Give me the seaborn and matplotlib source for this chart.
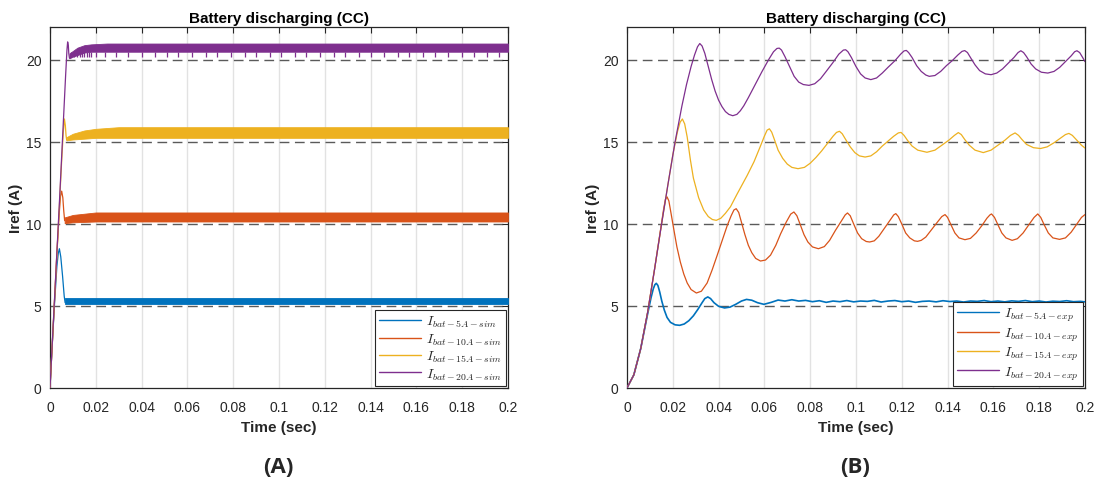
import matplotlib
matplotlib.use("Agg")
import matplotlib.pyplot as plt
import seaborn as sns

# ---------------- data ----------------
# colours (MATLAB default order)
col_5 = "#0072BD"
col_10 = "#D95319"
col_15 = "#EDB120"
col_20 = "#7E2F8E"

# (A) simulation: start-up transient, then a dense ripple band
sim5_t = [0, 0.001, 0.002, 0.003, 0.0036, 0.0041, 0.0047, 0.0055, 0.0062, 0.0066]
sim5_i = [0, 2.7, 5.2, 7.4, 8.2, 8.49, 8.0, 6.8, 5.6, 5.2]
sim10_t = [0, 0.002, 0.003, 0.004, 0.0046, 0.0051, 0.0056, 0.006, 0.0064]
sim10_i = [0, 5.4, 8.2, 10.6, 11.7, 12.0, 11.6, 10.8, 10.2]
sim15_t = [0, 0.003, 0.005, 0.0058, 0.0063, 0.0067, 0.007, 0.0073]
sim15_i = [0, 8.1, 13.6, 15.6, 16.4, 16.0, 15.4, 15.1]
sim20_t = [0, 0.004, 0.0068, 0.0074, 0.0077, 0.008, 0.0082, 0.0085]
sim20_i = [0, 11.0, 19.0, 20.6, 21.1, 20.9, 20.4, 20.1]

# ripple bands (lower / upper envelope)
band5_t = [0.0066, 0.2]
band5_lo = [5.1, 5.1]
band5_hi = [5.5, 5.5]
band10_t = [0.0064, 0.01, 0.02, 0.2]
band10_lo = [10.05, 10.1, 10.15, 10.15]
band10_hi = [10.4, 10.55, 10.7, 10.7]
band15_t = [0.0073, 0.01, 0.015, 0.02, 0.03, 0.2]
band15_lo = [15.1, 15.15, 15.2, 15.25, 15.25, 15.25]
band15_hi = [15.3, 15.5, 15.7, 15.8, 15.9, 15.9]
band20_t = [0.0085, 0.010, 0.012, 0.015, 0.018, 0.025, 0.2]
band20_lo = [20.1, 20.2, 20.3, 20.45, 20.5, 20.5, 20.5]
band20_hi = [20.4, 20.55, 20.75, 20.9, 20.95, 21.0, 21.0]
# downward spikes below the 20 A band
spike20_t = [0.009, 0.0105, 0.012, 0.013, 0.014, 0.015, 0.016, 0.017, 0.018, 0.020,
             0.024, 0.029, 0.034, 0.040, 0.046, 0.051, 0.056, 0.062, 0.068, 0.073,
             0.079, 0.085, 0.090, 0.096, 0.101, 0.107, 0.112, 0.118, 0.124, 0.129,
             0.135, 0.140, 0.146, 0.152, 0.157, 0.163, 0.168, 0.174, 0.180, 0.185,
             0.191, 0.196]
spike20_lo = 20.15

# (B) experiment
exp5_t = [0, 0.003, 0.006, 0.009, 0.0105, 0.0115, 0.0122, 0.0128, 0.0135, 0.0143,
          0.0152, 0.0163, 0.0175, 0.019, 0.021, 0.023, 0.025, 0.027, 0.029, 0.031,
          0.0328, 0.034, 0.0353, 0.0365, 0.038, 0.040, 0.0426, 0.045, 0.0475, 0.050,
          0.0522, 0.0545, 0.057, 0.0598, 0.063, 0.066, 0.069, 0.072,
          0.075, 0.078, 0.081, 0.084, 0.087, 0.090, 0.093, 0.096, 0.099, 0.102,
          0.105, 0.108, 0.111, 0.114, 0.117, 0.120, 0.123, 0.126, 0.129, 0.132,
          0.135, 0.138, 0.141, 0.144, 0.147, 0.150, 0.153, 0.156, 0.159, 0.162,
          0.165, 0.168, 0.171, 0.174, 0.177, 0.180, 0.183, 0.186, 0.189, 0.192,
          0.195, 0.198, 0.2]
exp5_i = [0, 0.8, 2.4, 4.5, 5.5, 6.05, 6.3, 6.38, 6.25, 5.85,
          5.3, 4.75, 4.3, 4.0, 3.85, 3.82, 3.9, 4.1, 4.4, 4.8,
          5.2, 5.45, 5.55, 5.45, 5.2, 4.98, 4.88, 4.93, 5.1, 5.3,
          5.4, 5.35, 5.2, 5.1, 5.22, 5.36, 5.3, 5.38,
          5.3, 5.34, 5.26, 5.32, 5.22, 5.3, 5.26, 5.33, 5.25, 5.3,
          5.28, 5.34, 5.24, 5.3, 5.33, 5.26, 5.3, 5.22, 5.28, 5.3,
          5.25, 5.32, 5.27, 5.3, 5.24, 5.3, 5.28, 5.33, 5.26, 5.3,
          5.25, 5.31, 5.28, 5.33, 5.26, 5.3, 5.24, 5.29, 5.27, 5.32,
          5.26, 5.28, 5.25]
exp10_t = [0, 0.003, 0.006, 0.009, 0.012, 0.0145, 0.016, 0.0168, 0.0175, 0.0183,
           0.0193, 0.0204, 0.0218, 0.0233, 0.0248, 0.0263, 0.028, 0.0303, 0.0325, 0.035,
           0.0372, 0.0394, 0.0416, 0.0438, 0.0455, 0.0467, 0.0477, 0.0488, 0.050, 0.0515,
           0.053, 0.0545, 0.0562, 0.0583, 0.0605, 0.0627, 0.065, 0.0671, 0.0695, 0.0715,
           0.0729, 0.0742, 0.0757, 0.0773, 0.079, 0.081, 0.0836, 0.0862, 0.0885, 0.091,
           0.0935, 0.0953, 0.0963, 0.0975, 0.099, 0.1007, 0.1025, 0.1045, 0.106, 0.108,
           0.110, 0.1125, 0.115, 0.1165, 0.1174, 0.1185, 0.120, 0.1217, 0.1235, 0.1255,
           0.1269, 0.1285, 0.1305, 0.133, 0.1355, 0.1375, 0.1389, 0.140, 0.1415, 0.1432,
           0.145, 0.1476, 0.150, 0.1525, 0.155, 0.1572, 0.1585, 0.1592, 0.1605, 0.162,
           0.1637, 0.1655, 0.1682, 0.1705, 0.173, 0.1755, 0.1778, 0.1794, 0.1807, 0.1822,
           0.184, 0.186, 0.1889, 0.1915, 0.194, 0.1965, 0.1985, 0.2]
exp10_i = [0, 0.8, 2.4, 4.6, 7.2, 9.5, 10.9, 11.5, 11.65, 11.4,
           10.6, 9.71, 8.6, 7.68, 6.95, 6.4, 6.0, 5.79, 5.9, 6.4,
           7.2, 8.09, 9.0, 9.91, 10.5, 10.85, 10.93, 10.7, 10.1, 9.35,
           8.7, 8.25, 7.9, 7.74, 7.8, 8.1, 8.7, 9.4, 10.1, 10.6,
           10.73, 10.5, 9.95, 9.35, 8.9, 8.6, 8.49, 8.62, 9.0, 9.6,
           10.15, 10.55, 10.67, 10.5, 10.0, 9.45, 9.1, 8.93, 8.9, 8.97,
           9.25, 9.75, 10.25, 10.55, 10.63, 10.45, 10.0, 9.45, 9.15, 8.97,
           8.94, 9.0, 9.2, 9.65, 10.1, 10.45, 10.57, 10.4, 9.95, 9.45,
           9.15, 9.04, 9.12, 9.45, 9.9, 10.35, 10.55, 10.61, 10.4, 9.95,
           9.45, 9.15, 9.0, 9.1, 9.45, 9.95, 10.4, 10.61, 10.4, 9.95,
           9.45, 9.15, 9.06, 9.15, 9.5, 10.0, 10.4, 10.57]
exp15_t = [0, 0.003, 0.006, 0.009, 0.012, 0.015, 0.018, 0.020, 0.022, 0.0232,
           0.0242, 0.0252, 0.0263, 0.0277, 0.029, 0.0313, 0.0335, 0.0355, 0.0373, 0.039,
           0.041, 0.043, 0.0452, 0.048, 0.0525, 0.0555, 0.0583, 0.0600, 0.0612, 0.0622,
           0.0632, 0.0645, 0.066, 0.068, 0.0700, 0.072, 0.0747, 0.0775, 0.080, 0.0825,
           0.085, 0.0875, 0.090, 0.0915, 0.0928, 0.094, 0.0955, 0.0975, 0.0995, 0.1015,
           0.104, 0.1065, 0.109, 0.1115, 0.114, 0.1165, 0.1185, 0.1197, 0.121, 0.1225,
           0.1245, 0.127, 0.131, 0.1345, 0.1375, 0.1405, 0.143, 0.1447, 0.146, 0.1475,
           0.1495, 0.152, 0.1556, 0.159, 0.162, 0.165, 0.1675, 0.1695, 0.171, 0.1725,
           0.1745, 0.1775, 0.1806, 0.1835, 0.1865, 0.189, 0.1915, 0.193, 0.1945, 0.1965,
           0.1985, 0.2]
exp15_i = [0, 0.8, 2.4, 4.6, 7.2, 9.9, 12.5, 14.2, 15.6, 16.2,
           16.4, 16.1, 15.3, 13.9, 12.8, 11.6, 10.85, 10.45, 10.27, 10.22,
           10.35, 10.65, 11.05, 11.8, 12.96, 13.8, 14.75, 15.35, 15.72, 15.8,
           15.6, 15.1, 14.5, 14.0, 13.65, 13.45, 13.37, 13.45, 13.7, 14.05,
           14.45, 14.9, 15.35, 15.58, 15.65, 15.5, 15.15, 14.7, 14.35, 14.15,
           14.08, 14.15, 14.4, 14.75, 15.05, 15.35, 15.55, 15.58, 15.4, 15.1,
           14.75, 14.5, 14.37, 14.5, 14.8, 15.1, 15.4, 15.57, 15.45, 15.15,
           14.8, 14.5, 14.35, 14.5, 14.8, 15.1, 15.4, 15.55, 15.4, 15.15,
           14.85, 14.65, 14.6, 14.7, 14.95, 15.2, 15.45, 15.52, 15.4, 15.1,
           14.8, 14.63]
exp20_t = [0, 0.003, 0.006, 0.009, 0.012, 0.015, 0.018, 0.021, 0.024, 0.026,
           0.028, 0.0295, 0.0308, 0.0318, 0.0328, 0.034, 0.0355, 0.037, 0.0385, 0.040,
           0.0415, 0.043, 0.0445, 0.0462, 0.048, 0.0495, 0.051, 0.053, 0.056, 0.059,
           0.062, 0.064, 0.0655, 0.0665, 0.0675, 0.069, 0.071, 0.073, 0.075, 0.077,
           0.0795, 0.082, 0.0845, 0.087, 0.09, 0.0925, 0.0945, 0.0955, 0.0965, 0.098,
           0.100, 0.102, 0.104, 0.1065, 0.109, 0.1115, 0.114, 0.117, 0.1195, 0.121,
           0.122, 0.123, 0.1245, 0.1265, 0.1285, 0.1305, 0.132, 0.1345, 0.137, 0.1395,
           0.142, 0.1445, 0.1463, 0.1475, 0.1487, 0.150, 0.152, 0.154, 0.1565, 0.159,
           0.1615, 0.164, 0.1665, 0.169, 0.1708, 0.172, 0.1732, 0.1745, 0.1765, 0.1785,
           0.181, 0.1838, 0.1865, 0.189, 0.1915, 0.194, 0.1955, 0.1965, 0.1977, 0.199,
           0.2]
exp20_i = [0, 0.8, 2.4, 4.6, 7.2, 9.9, 12.5, 15.0, 17.2, 18.5,
           19.6, 20.3, 20.8, 21.0, 20.85, 20.4, 19.6, 18.8, 18.1, 17.55,
           17.15, 16.85, 16.68, 16.6, 16.68, 16.9, 17.2, 17.7, 18.5, 19.3,
           20.05, 20.5, 20.7, 20.72, 20.6, 20.2, 19.6, 19.0, 18.65, 18.5,
           18.45, 18.55, 18.85, 19.3, 19.85, 20.35, 20.6, 20.62, 20.5, 20.15,
           19.6, 19.15, 18.9, 18.8, 18.9, 19.2, 19.55, 19.95, 20.35, 20.55,
           20.58, 20.45, 20.15, 19.65, 19.3, 19.08, 19.0, 19.05, 19.3, 19.65,
           19.95, 20.3, 20.52, 20.57, 20.45, 20.15, 19.7, 19.35, 19.15, 19.1,
           19.2, 19.45, 19.8, 20.15, 20.45, 20.56, 20.45, 20.2, 19.75, 19.45,
           19.25, 19.2, 19.3, 19.55, 19.9, 20.25, 20.5, 20.56, 20.45, 20.15,
           19.9]

x_ticks = [0, 0.02, 0.04, 0.06, 0.08, 0.1, 0.12, 0.14, 0.16, 0.18, 0.2]
x_labels = ["0", "0.02", "0.04", "0.06", "0.08", "0.1", "0.12", "0.14", "0.16", "0.18", "0.2"]
y_ticks = [0, 5, 10, 15, 20]

#=============================== STYLE ===============================
sns.set_theme(style="white")
plt.rcParams['font.family'] = ['Liberation Sans', 'DejaVu Sans']
plt.rcParams['mathtext.fontset'] = 'cm'
txt = "#262626"


def style_axes(ax):
    ax.set_xlim(0, 0.2)
    ax.set_ylim(0, 22)
    ax.set_xticks(x_ticks)
    ax.set_xticklabels(x_labels)
    ax.set_yticks(y_ticks)
    ax.tick_params(direction="in", top=True, right=True, length=4, width=0.8,
                   labelsize=10, colors=txt)
    ax.tick_params(axis="x", pad=9)
    ax.tick_params(axis="y", pad=6)
    for sp in ax.spines.values():
        sp.set_visible(True)
        sp.set_color(txt)
        sp.set_linewidth(0.9)
    # light vertical grid, dashed horizontal grid
    for xt in x_ticks[1:-1]:
        ax.axvline(xt, color="#e2e2e2", lw=1.0, zorder=0)
    for yt in y_ticks[1:]:
        ax.axhline(yt, color="#5a5a5a", lw=1.0, ls=(0, (7, 4)), zorder=0.5)
    ax.set_title("Battery discharging (CC)", fontsize=11, fontweight="bold", color="black", pad=3.5)
    ax.set_xlabel("Time (sec)", fontsize=11, fontweight="bold", color=txt, labelpad=4)
    ax.set_ylabel("Iref (A)", fontsize=11, fontweight="bold", color=txt, labelpad=2)


fig = plt.figure(figsize=(10.99, 4.85), dpi=100)
axA = fig.add_axes([0.0455, 0.198, 0.4167, 0.744])
axB = fig.add_axes([0.5705, 0.198, 0.4167, 0.744])

lw = 0.9
#=============================== (A) ===============================
sims = [(sim5_t, sim5_i, band5_t, band5_lo, band5_hi, col_5, r"$I_{bat-5A-sim}$"),
        (sim10_t, sim10_i, band10_t, band10_lo, band10_hi, col_10, r"$I_{bat-10A-sim}$"),
        (sim15_t, sim15_i, band15_t, band15_lo, band15_hi, col_15, r"$I_{bat-15A-sim}$"),
        (sim20_t, sim20_i, band20_t, band20_lo, band20_hi, col_20, r"$I_{bat-20A-sim}$")]
for t, i, bt, blo, bhi, c, lab in sims:
    sns.lineplot(x=t, y=i, ax=axA, color=c, lw=lw, label=lab, estimator=None, sort=False, zorder=3)
    axA.fill_between(bt, blo, bhi, color=c, lw=0.6, edgecolor=c, zorder=3)
axA.vlines(spike20_t, spike20_lo, band20_lo[-1], color=col_20, lw=0.9, zorder=3)

#=============================== (B) ===============================
exps = [(exp5_t, exp5_i, col_5, r"$I_{bat-5A-exp}$", 1.2),
        (exp10_t, exp10_i, col_10, r"$I_{bat-10A-exp}$", lw),
        (exp15_t, exp15_i, col_15, r"$I_{bat-15A-exp}$", lw),
        (exp20_t, exp20_i, col_20, r"$I_{bat-20A-exp}$", lw)]
for t, i, c, lab, w in exps:
    sns.lineplot(x=t, y=i, ax=axB, color=c, lw=w, label=lab, estimator=None, sort=False, zorder=3)

for ax in (axA, axB):
    style_axes(ax)
    leg = ax.legend(loc="lower right", fontsize=10, frameon=True, fancybox=False,
                    edgecolor="#262626", framealpha=1, borderpad=0.3, labelspacing=0.15,
                    handlelength=3.0, handletextpad=0.35, borderaxespad=0.15)
    leg.get_frame().set_linewidth(0.8)
    for ln in leg.get_lines():
        ln.set_linewidth(1.0)

fig.text(0.253, 0.037, "(A)", fontsize=16, fontweight="bold", ha="center", va="center",
         family=["Open Sans", "DejaVu Sans"])
fig.text(0.778, 0.037, "(B)", fontsize=16, fontweight="bold", ha="center", va="center",
         family=["Open Sans", "DejaVu Sans"])

fig.savefig("out.png", dpi=100)
